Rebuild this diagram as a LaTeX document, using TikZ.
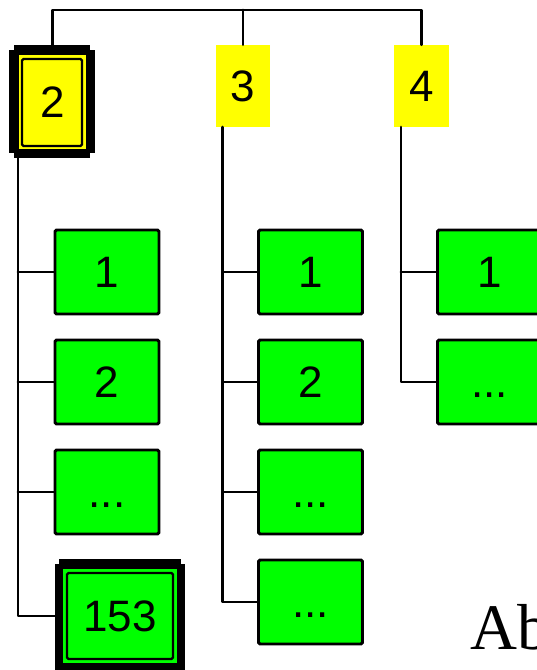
\documentclass[tikz,border=0pt]{standalone}
\usepackage{fontspec}
\setmainfont{Liberation Sans}
\newfontfamily\serifab{Liberation Serif}
\begin{document}
\begin{tikzpicture}[x=1pt,y=1pt,
  conn/.style={line width=2.8pt, line cap=round, line join=round},
  ybox/.style={fill={rgb,255:red,255;green,255;blue,0}, inner sep=0pt, text height=31.5pt, text depth=0pt, font=\fontsize{44}{50}\selectfont},
  gbox/.style={fill={rgb,255:red,0;green,255;blue,0}, draw=black, line width=2.9pt, rounded corners=1.5pt,
    minimum width=104pt, minimum height=84pt, inner sep=0pt, text height=31.5pt, text depth=0pt, font=\fontsize{44}{50}\selectfont},
  frame/.style={fill=black},
  thinrect/.style={draw=black, line width=2.3pt, rounded corners=1.5pt}
]
\useasboundingbox (0,0) rectangle (537,670);

% yellow top boxes
\node[ybox, minimum width=67pt, minimum height=94pt] (y2) at (52.5,568) {};
\node[ybox, minimum width=54pt, minimum height=82pt] (y3) at (243,584) {3};
\node[ybox, minimum width=55pt, minimum height=82pt] (y4) at (421.5,584) {4};

% column 1 green boxes
\node[gbox] (a1) at (107,398) {1};
\node[gbox] (a2) at (107,288) {2};
\node[gbox] (a3) at (107,178) {...};
\node[fill={rgb,255:red,0;green,255;blue,0}, minimum width=114pt, minimum height=94pt, inner sep=0pt] (a4) at (120,54) {};

% column 2 green boxes
\node[gbox] (b1) at (310.5,398) {1};
\node[gbox] (b2) at (310.5,288) {2};
\node[gbox] (b3) at (310.5,178) {...};
\node[gbox] (b4) at (310.5,68) {...};

% column 3 green boxes
\node[gbox] (c1) at (489.5,398) {1};
\node[gbox] (c2) at (489.5,288) {...};

% top bar
\coordinate (bar) at (0,660);
\draw[conn] (y2.north) -- (y2.north |- bar) -- (y4.north |- bar) -- (y4.north);
\draw[conn] (y3.north |- bar) -- (y3.north);

% trunks
\coordinate (t1) at (18,521);
\coordinate (t2) at (222.5,543);
\coordinate (t3) at (401,543);
\draw[conn] (t1) |- (a4.west);
\draw[conn] (t1 |- a1.west) -- (a1.west);
\draw[conn] (t1 |- a2.west) -- (a2.west);
\draw[conn] (t1 |- a3.west) -- (a3.west);
\draw[conn] (t2) |- (b4.west);
\draw[conn] (t2 |- b1.west) -- (b1.west);
\draw[conn] (t2 |- b2.west) -- (b2.west);
\draw[conn] (t2 |- b3.west) -- (b3.west);
\draw[conn] (t3) |- (c2.west);
\draw[conn] (t3 |- c1.west) -- (c1.west);

% highlighted frame around yellow 2
\fill[frame] (9,517) rectangle (95,620);
\fill[frame] (14,512) rectangle (90,625);
\node[ybox, minimum width=67pt, minimum height=94pt] at (y2.center) {2};
\draw[thinrect] (22,524) rectangle (82,611);

% highlighted frame around 153
\fill[frame] (55,-3) rectangle (185,106);
\fill[frame] (59,-8) rectangle (181,111);
\node[fill={rgb,255:red,0;green,255;blue,0}, minimum width=114pt, minimum height=94pt, inner sep=0pt,
  text height=31.5pt, text depth=0pt, font=\fontsize{44}{50}\selectfont] at (a4.center) {153};
\draw[thinrect] (67,11) rectangle (173,97);

% partial text
\node[anchor=base west, inner sep=0pt, font=\serifab\fontsize{65}{70}\selectfont] (ab) at (470,20) {Ab};
\end{tikzpicture}
\end{document}
